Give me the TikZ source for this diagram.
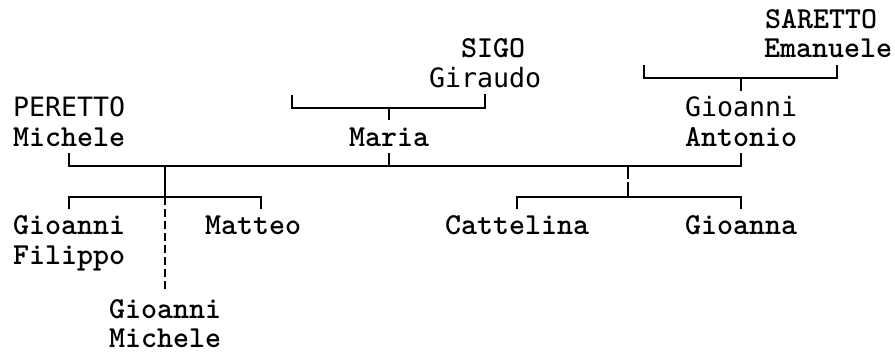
\documentclass[tikz,border=0pt]{standalone}
\usepackage{fontspec}
\newfontfamily\serifmono{lmmonolt10-bold.otf}
\newfontfamily\sansmono{DejaVu Sans Mono}
\tikzset{
	pname/.style={inner xsep=0pt, inner ysep=3pt, text height=9.5pt, text depth=0pt, anchor=base west},
	serifname/.style={pname, font=\serifmono\fontsize{15.24pt}{16pt}\selectfont},
	sansname/.style={pname, font=\sansmono\fontsize{13.3pt}{14pt}\selectfont},
}
\begin{document}
\begin{tikzpicture}[x=0.5pt, y=-0.5pt, line join=miter, line width=1pt]
			\useasboundingbox (0,0) rectangle (895,354);
			\node[serifname] (saretto) at (764,28) {SARETTO};
			\node[serifname] (sigo) at (460,57.5) {SIGO};
			\node[serifname] (emanuele) at (763,57.5) {Emanuele};
			\node[sansname] (giraudo) at (428,87) {Giraudo};
			\node[sansname] (peretto) at (12,116.7) {PERETTO};
			\node[sansname] (gioanniA) at (684,116.7) {Gioanni};
			\node[serifname] (michele) at (12,146.2) {Michele};
			\node[serifname] (maria) at (348,146.2) {Maria};
			\node[serifname] (antonio) at (684,146.2) {Antonio};
			\node[serifname] (gioanniF) at (12,234.9) {Gioanni};
			\node[serifname] (filippo) at (12,264.4) {Filippo};
			\node[serifname] (matteo) at (204,234.9) {Matteo};
			\node[serifname] (cattelina) at (444,234.9) {Cattelina};
			\node[serifname] (gioanna) at (684,234.9) {Gioanna};
			\node[serifname] (gioanniM) at (108,318.5) {Gioanni};
			\node[serifname, inner ysep=0.5pt] (micheleM) at (108,347) {Michele};
			\coordinate (row2) at (0,78);
			\coordinate (row3) at (0,108);
			\coordinate (row5) at (0,166);
			\coordinate (row6) at (0,197);
			\coordinate (mariaP) at (292,95);
			\coordinate (antonioP) at (644,65);
			\coordinate (kidsR) at (628,166);
			\draw (mariaP) -- (mariaP |- row3) -- (giraudo.south |- row3) -- (giraudo.south);
			\draw (maria.north) -- (maria.north |- row3);
			\draw (antonioP) -- (antonioP |- row2) -- ([xshift=4.5pt]emanuele.south |- row2) -- ([xshift=4.5pt]emanuele.south);
			\draw (gioanniA.north) -- (gioanniA.north |- row2);
			\draw (michele.south) -- (michele.south |- row5) -- (antonio.south |- row5) -- (antonio.south);
			\draw (maria.south) -- (maria.south |- row5);
			\draw (gioanniM.north |- row5) -- (gioanniM.north |- row6);
			\draw[dash pattern=on 4pt off 2pt] (gioanniM.north |- row6) -- (gioanniM.north);
			\draw (gioanniF.north) -- (gioanniF.north |- row6) -- ([xshift=4pt]matteo.north |- row6) -- ([xshift=4pt]matteo.north);
			\draw[dash pattern=on 6.5pt off 1.5pt on 7.5pt] (kidsR) -- (kidsR |- row6);
			\draw (cattelina.north) -- (cattelina.north |- row6) -- (gioanna.north |- row6) -- (gioanna.north);
		\end{tikzpicture}
\end{document}
